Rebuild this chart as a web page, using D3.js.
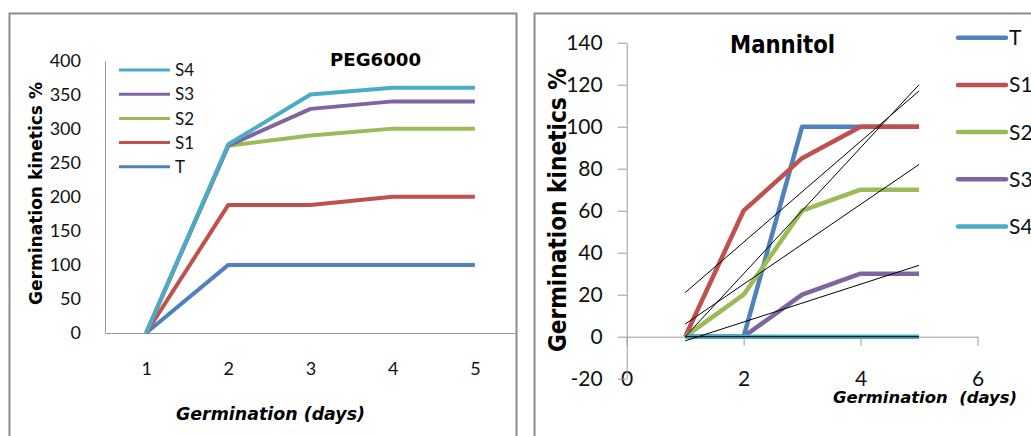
<!DOCTYPE html>
<html>
<head>
<meta charset="utf-8">
<script src="https://cdn.jsdelivr.net/npm/d3@7"></script>
<style>
  body{margin:0;background:#fff}
  svg{display:block}
  .lbl{font-family:Lato,"Open Sans",sans-serif;fill:#111}
  .ttl{font-family:"DejaVu Sans",sans-serif;font-weight:bold;fill:#000}
</style>
</head>
<body>
<svg id="chart" width="1031" height="436"></svg>
<script>
// Data
const days = [1,2,3,4,5];
const seriesNames = ['T','S1','S2','S3','S4'];
// PEG6000 (values as plotted)
const pegT  = [0,100,100,100,100];
const pegS1 = [0,188,188,200,200];
const pegS2 = [0,275,290,300,300];
const pegS3 = [0,275,329,340,340];
const pegS4 = [0,277,350,360,360];
// Mannitol
const manT  = [0,0,100,100,100];
const manS1 = [0,60,85,100,100];
const manS2 = [0,20,60,70,70];
const manS3 = [0,0,20,30,30];
const manS4 = [0,0,0,0,0];
const pegTicks = [0,50,100,150,200,250,300,350,400];
const manYTicks = [-20,0,20,40,60,80,100,120,140];
const manXTicks = [0,2,4,6];

const colors = ['#4F81BD','#C0504D','#9BBB59','#8064A2','#4BACC6'];
const plain = d => String(d);   // keep "-20" with a hyphen like the original
const svg = d3.select('#chart');

// frames
svg.append('rect').attr('x',9.5).attr('y',13.5).attr('width',507).attr('height',460)
  .attr('fill','none').attr('stroke','#8c8c8c').attr('stroke-width',2);
svg.append('rect').attr('x',534.5).attr('y',13.5).attr('width',520).attr('height',460)
  .attr('fill','none').attr('stroke','#8c8c8c').attr('stroke-width',2);

/* ===== PEG6000 ===== */
const pegData = [pegT,pegS1,pegS2,pegS3,pegS4];
const xL = d3.scalePoint().domain(days).range([105,516]).padding(0.5);
const yL = d3.scaleLinear().domain([0,400]).range([333,60.5]);
const gL = svg.append('g');

const axL = gL.append('g').attr('transform','translate(0,333)')
  .call(d3.axisBottom(xL).tickSize(0).tickSizeOuter(0).tickPadding(29));
axL.select('.domain').attr('stroke','#9a9a9a');
axL.selectAll('text').attr('class','lbl').style('font-size','18px');

const ayL = gL.append('g').attr('transform','translate(105,0)')
  .call(d3.axisLeft(yL).tickValues(pegTicks).tickFormat(plain).tickSize(0).tickSizeOuter(0).tickPadding(24));
ayL.select('.domain').attr('stroke','#9a9a9a');
ayL.selectAll('text').attr('class','lbl').style('font-size','18px');

const lineL = d3.line().x((d,i)=>xL(days[i])).y(d=>yL(d));
pegData.forEach((vals,i)=>{
  gL.append('path').attr('d',lineL(vals)).attr('fill','none')
    .attr('stroke',colors[i]).attr('stroke-width',4).attr('stroke-linejoin','round');
});

// legend (reverse order)
seriesNames.slice().reverse().forEach((name,j)=>{
  const i = seriesNames.length-1-j, cy = 70 + j*24.2;
  gL.append('line').attr('x1',119).attr('x2',170).attr('y1',cy).attr('y2',cy)
    .attr('stroke',colors[i]).attr('stroke-width',3);
  gL.append('text').attr('class','lbl').attr('x',175).attr('y',cy).attr('dy','0.36em')
    .style('font-size','17px').text(name);
});

gL.append('text').attr('class','ttl').attr('x',330).attr('y',66)
  .attr('textLength',91).attr('lengthAdjust','spacingAndGlyphs').style('font-size','17px').text('PEG6000');
gL.append('text').attr('class','ttl').attr('transform','translate(42,305) rotate(-90)')
  .attr('textLength',223).attr('lengthAdjust','spacingAndGlyphs').style('font-size','18px')
  .text('Germination kinetics %');
gL.append('text').attr('class','ttl').attr('x',176).attr('y',420).style('font-style','italic')
  .attr('textLength',189).attr('lengthAdjust','spacingAndGlyphs').style('font-size','17px')
  .text('Germination (days)');

/* ===== Mannitol ===== */
const manData = [manT,manS1,manS2,manS3,manS4];
const xR = d3.scaleLinear().domain([0,6]).range([626.7,977.5]);
const yR = d3.scaleLinear().domain([-20,140]).range([378.7,42.7]);
const gR = svg.append('g');

const axR = gR.append('g').attr('transform',`translate(0,${yR(0)})`)
  .call(d3.axisBottom(xR).tickValues(manXTicks).tickSize(9).tickSizeOuter(0).tickFormat(''));
axR.selectAll('line,.domain').attr('stroke','#9a9a9a');
const axRl = gR.append('g').attr('transform',`translate(0,${yR(-20)})`)
  .call(d3.axisBottom(xR).tickValues(manXTicks).tickFormat(plain).tickSize(0));
axRl.select('.domain').remove();
axRl.selectAll('text').attr('class','lbl').attr('y',0).attr('dy','0.36em').style('font-size','21px');

const ayR = gR.append('g').attr('transform',`translate(${xR(0)},0)`)
  .call(d3.axisLeft(yR).tickValues(manYTicks).tickFormat(plain).tickSize(9).tickSizeOuter(0).tickPadding(15));
ayR.selectAll('line,.domain').attr('stroke','#9a9a9a');
ayR.selectAll('text').attr('class','lbl').style('font-size','21px');

const lineR = d3.line().x((d,i)=>xR(days[i])).y(d=>yR(d));
manData.forEach((vals,i)=>{
  gR.append('path').attr('d',lineR(vals)).attr('fill','none')
    .attr('stroke',colors[i]).attr('stroke-width',4.5).attr('stroke-linejoin','round');
});

// linear trendlines (least squares on each series)
function fit(vals){
  const mx = d3.mean(days), my = d3.mean(vals);
  const b = d3.sum(days,(x,i)=>(x-mx)*(vals[i]-my)) / d3.sum(days,x=>(x-mx)*(x-mx));
  return x => my + b*(x-mx);
}
manData.forEach(vals=>{
  const f = fit(vals), x0 = d3.min(days), x1 = d3.max(days);
  gR.append('line').attr('x1',xR(x0)).attr('y1',yR(f(x0))).attr('x2',xR(x1)).attr('y2',yR(f(x1)))
    .attr('stroke','#000').attr('stroke-width',1);
});

seriesNames.forEach((name,i)=>{
  const cy = 37.7 + i*47.2;
  gR.append('line').attr('x1',958).attr('x2',1006).attr('y1',cy).attr('y2',cy)
    .attr('stroke',colors[i]).attr('stroke-width',4.5).attr('stroke-linecap','round');
  gR.append('text').attr('class','lbl').attr('x',1009).attr('y',cy).attr('dy','0.36em')
    .style('font-size','21px').text(name);
});

gR.append('text').attr('class','ttl').attr('x',730).attr('y',53)
  .attr('textLength',105).attr('lengthAdjust','spacingAndGlyphs').style('font-size','24px').text('Mannitol');
gR.append('text').attr('class','ttl').attr('transform','translate(566,352) rotate(-90)')
  .attr('textLength',284).attr('lengthAdjust','spacingAndGlyphs').style('font-size','24px')
  .text('Germination kinetics %');
gR.append('text').attr('class','ttl').attr('x',833).attr('y',403).style('font-style','italic')
  .attr('textLength',184).attr('lengthAdjust','spacingAndGlyphs').style('font-size','15px')
  .attr('xml:space','preserve').style('white-space','pre')
  .text('Germination  (days)');
</script>
</body>
</html>
